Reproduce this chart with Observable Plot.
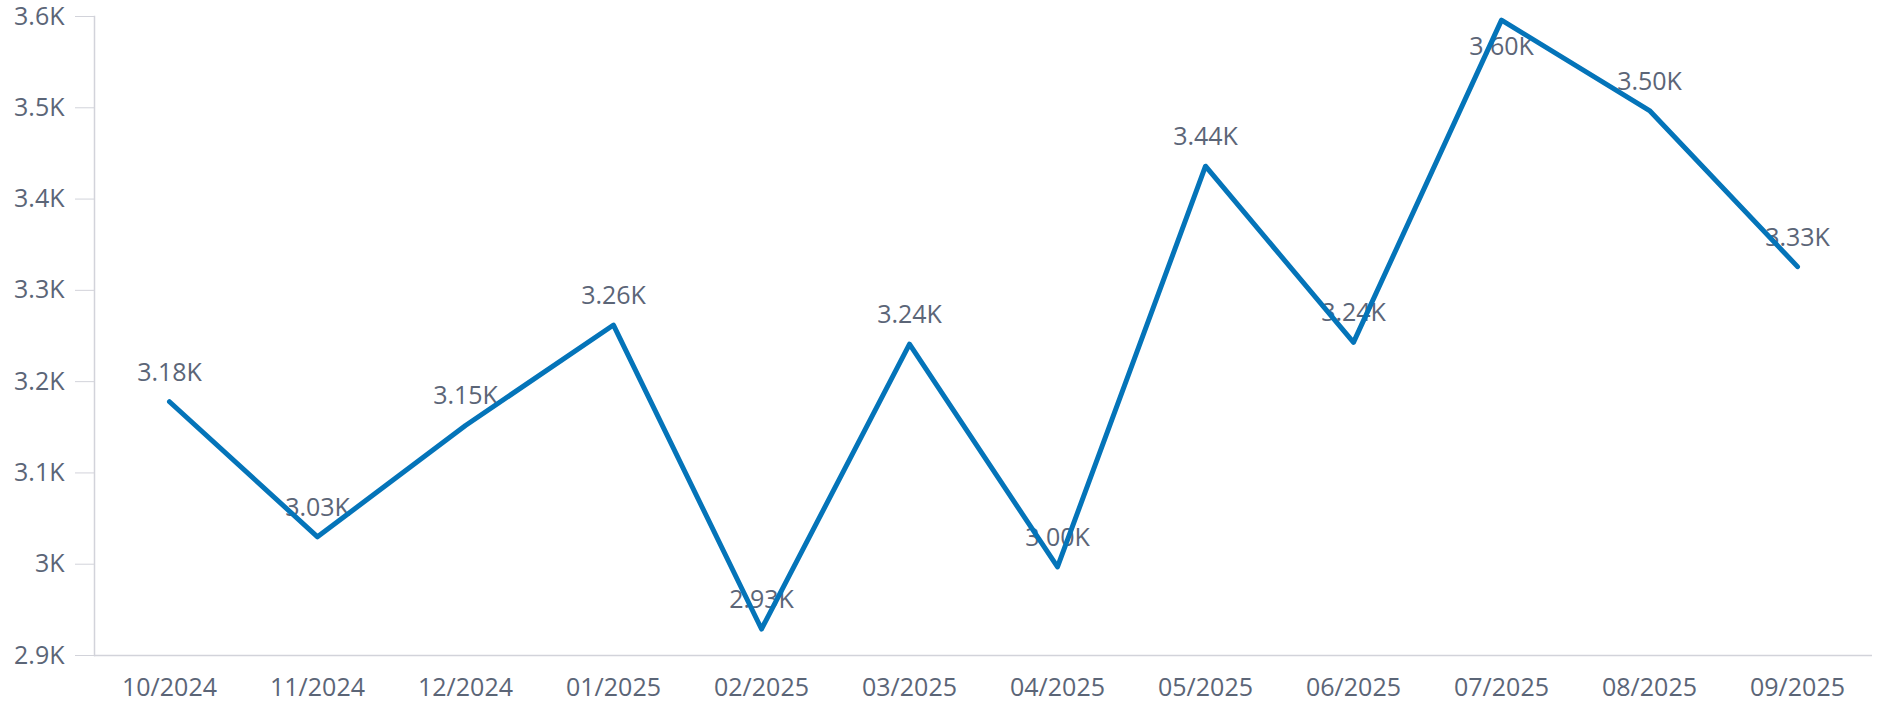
<!DOCTYPE html>
<html>
<head>
<meta charset="utf-8">
<script src="https://cdn.jsdelivr.net/npm/d3@7"></script>
<script src="https://cdn.jsdelivr.net/npm/@observablehq/plot@0.6"></script>
<style>
  html, body { margin: 0; padding: 0; background: #fff; }
  #chart svg { display: block; }
</style>
</head>
<body>
<div id="chart"></div>
<script>
const months = ["10/2024","11/2024","12/2024","01/2025","02/2025","03/2025","04/2025","05/2025","06/2025","07/2025","08/2025","09/2025"];
const values = [3178, 3030, 3152, 3262, 2929, 3241, 2997, 3436, 3243, 3596, 3497, 3326];
const yTicks = [2900, 3000, 3100, 3200, 3300, 3400, 3500, 3600];

const data = months.map((m, i) => ({month: m, value: values[i]}));
const fmtLabel = v => (v / 1000).toFixed(2) + "K";
const fmtTick = v => (v / 1000) + "K";
const labelColor = "#5b6577";
const axisColor = "#d2d3da";
const lineColor = "#0474b9";
const topLimit = 3570;

const chart = Plot.plot({
  width: 1877,
  height: 703,
  marginTop: 16,
  marginBottom: 48,
  marginLeft: 94,
  marginRight: 5,
  style: {fontFamily: "'Open Sans', sans-serif", fontSize: "25px", color: labelColor, background: "#fff"},
  x: {type: "point", domain: months, padding: 0.5},
  y: {domain: [2900, 3600]},
  marks: [
    Plot.frame({anchor: "left", stroke: axisColor, strokeWidth: 1.5}),
    Plot.ruleY([2900], {stroke: axisColor, strokeWidth: 1.5}),
    Plot.axisY({ticks: yTicks, tickFormat: fmtTick, tickSize: 19, tickPadding: 11, stroke: axisColor, fill: labelColor, label: null, fontSize: 25}),
    Plot.axisX({tickSize: 0, tickPadding: 23, fill: labelColor, label: null, fontSize: 25}),
    Plot.text(data.filter(d => d.value < topLimit), {x: "month", y: "value", text: d => fmtLabel(d.value), dy: -29, fill: labelColor, fontSize: 25}),
    Plot.text(data.filter(d => d.value >= topLimit), {x: "month", y: "value", text: d => fmtLabel(d.value), dy: 27, fill: labelColor, fontSize: 25}),
    Plot.line(data, {x: "month", y: "value", stroke: lineColor, strokeWidth: 5, strokeLinejoin: "round", strokeLinecap: "round"})
  ]
});
document.getElementById("chart").appendChild(chart);
</script>
</body>
</html>
